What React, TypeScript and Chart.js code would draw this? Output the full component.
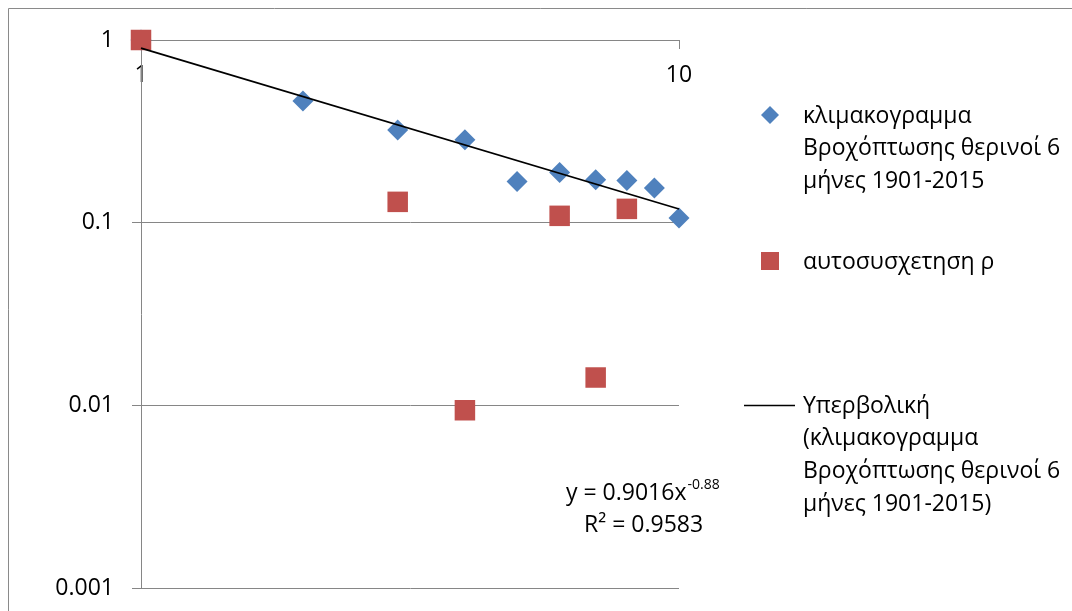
import React, { useEffect, useRef } from "react";
import { Chart, registerables } from "chart.js";

Chart.register(...registerables);

const FONT = '"Open Sans", "DejaVu Sans", sans-serif';

// Climacogram (blue diamonds)
const climaX = [1, 2, 3, 4, 5, 6, 7, 8, 9, 10];
const climaY = [1, 0.464, 0.322, 0.284, 0.168, 0.188, 0.172, 0.17, 0.155, 0.106];
// Autocorrelation (red squares; non-positive values are not shown on a log axis)
const autoX = [1, 3, 4, 6, 7, 8];
const autoY = [1, 0.13, 0.0094, 0.109, 0.0142, 0.119];
// Power trendline y = 0.9016 x^-0.88 (end points)
const trendX = [1, 10];
const trendY = [0.9016, 0.1188];

const xTickValues = [1, 10];
const xTickLabels = ["1", "10"];
const yTickValues = [0.001, 0.01, 0.1, 1];
const yTickLabels = ["0.001", "0.01", "0.1", "1"];

const legendClima = ["κλιμακογραμμα", "Βροχόπτωσης θερινοί 6", "μήνες 1901-2015"];
const legendAuto = ["αυτοσυσχετηση ρ"];
const legendTrend = ["Υπερβολική", "(κλιμακογραμμα", "Βροχόπτωσης θερινοί 6", "μήνες 1901-2015)"];
const equationMain = "y = 0.9016x";
const equationExp = "-0.88";
const equationR2 = "R² = 0.9583";

const BLUE = "#4F81BD";
const RED = "#C0504D";
const GRAY = "#868686";

const overlay = {
  id: "overlay",
  beforeDraw(chart: any) {
    const ctx = chart.ctx;
    ctx.save();
    ctx.strokeStyle = "#8a8a8a";
    ctx.lineWidth = 1;
    ctx.beginPath();
    ctx.moveTo(8.5, 611);
    ctx.lineTo(8.5, 8.5);
    ctx.lineTo(1072, 8.5);
    ctx.stroke();
    ctx.restore();
  },
  afterDraw(chart: any) {
    const ctx = chart.ctx;
    ctx.save();
    ctx.fillStyle = "#000";
    ctx.textBaseline = "middle";
    ctx.textAlign = "left";
    ctx.font = `23px ${FONT}`;
    const tx = 803;
    const lh = 32.7;
    // legend 1: diamond
    ctx.fillStyle = BLUE;
    ctx.beginPath();
    ctx.moveTo(770, 106);
    ctx.lineTo(779, 115);
    ctx.lineTo(770, 124);
    ctx.lineTo(761, 115);
    ctx.closePath();
    ctx.fill();
    ctx.fillStyle = "#000";
    legendClima.forEach((t, i) => ctx.fillText(t, tx, 116 + i * lh));
    // legend 2: square
    ctx.fillStyle = RED;
    ctx.fillRect(761, 252, 18, 18);
    ctx.fillStyle = "#000";
    legendAuto.forEach((t, i) => ctx.fillText(t, tx, 262 + i * lh));
    // legend 3: line
    ctx.strokeStyle = "#000";
    ctx.lineWidth = 1.5;
    ctx.beginPath();
    ctx.moveTo(744, 405.5);
    ctx.lineTo(795, 405.5);
    ctx.stroke();
    legendTrend.forEach((t, i) => ctx.fillText(t, tx, 406 + i * lh));
    // equation
    ctx.fillText(equationMain, 566, 493);
    const w = ctx.measureText(equationMain).width;
    ctx.font = `14px ${FONT}`;
    ctx.fillText(equationExp, 566 + w + 1, 485);
    ctx.font = `23px ${FONT}`;
    ctx.fillText(equationR2, 584, 525);
    ctx.restore();
  },
};

export default function App() {
  const ref = useRef<HTMLCanvasElement | null>(null);
  useEffect(() => {
    if (!ref.current) return;
    Chart.defaults.font.family = FONT;
    Chart.defaults.font.size = 23;
    Chart.defaults.color = "#000";
    const chart = new Chart(ref.current, {
      type: "scatter",
      data: {
        datasets: [
          {
            label: legendTrend.join(" "),
            data: trendX.map((x, i) => ({ x, y: trendY[i] })),
            showLine: true,
            borderColor: "#000",
            borderWidth: 1.8,
            pointRadius: 0,
            pointHoverRadius: 0,
            fill: false,
            clip: false as any,
            order: 0,
          },
          {
            label: legendAuto.join(" "),
            data: autoX.map((x, i) => ({ x, y: autoY[i] })),
            pointStyle: "rect",
            pointRadius: 14.5,
            backgroundColor: RED,
            borderColor: RED,
            borderWidth: 0,
            clip: false as any,
            order: 1,
          },
          {
            label: legendClima.join(" "),
            data: climaX.map((x, i) => ({ x, y: climaY[i] })),
            pointStyle: "rectRot",
            pointRadius: 10.5,
            backgroundColor: BLUE,
            borderColor: BLUE,
            borderWidth: 0,
            clip: false as any,
            order: 2,
          },
        ],
      },
      options: {
        animation: false,
        responsive: false,
        devicePixelRatio: 1,
        events: [],
        layout: { padding: { left: 0, right: 393, top: 40, bottom: 23 } },
        plugins: {
          legend: { display: false },
          tooltip: { enabled: false },
          title: { display: false },
        },
        scales: {
          x: {
            type: "logarithmic",
            min: 1,
            max: 10,
            position: { y: 1 } as any,
            afterBuildTicks: (s: any) => {
              s.ticks = xTickValues.map((v) => ({ value: v }));
            },
            ticks: {
              autoSkip: false,
              maxRotation: 0,
              padding: 14,
              color: "#000",
              font: { size: 23, family: FONT },
              callback: (v: any) => {
                const i = xTickValues.indexOf(Number(v));
                return i >= 0 ? xTickLabels[i] : "";
              },
            },
            grid: {
              drawOnChartArea: false,
              drawTicks: true,
              tickLength: 8,
              color: GRAY,
              lineWidth: 1,
            },
            border: { display: true, color: GRAY, width: 1 },
          },
          y: {
            type: "logarithmic",
            min: 0.001,
            max: 1,
            position: "left",
            afterFit: (s: any) => {
              s.width = 141;
              s.paddingTop = 0;
              s.paddingBottom = 0;
            },
            afterBuildTicks: (s: any) => {
              s.ticks = yTickValues.map((v) => ({ value: v }));
            },
            ticks: {
              autoSkip: false,
              padding: 18,
              color: "#000",
              font: { size: 23, family: FONT },
              callback: (v: any) => {
                const i = yTickValues.findIndex((t) => Math.abs(t - Number(v)) < t * 1e-6);
                return i >= 0 ? yTickLabels[i] : "";
              },
            },
            grid: {
              drawOnChartArea: true,
              drawTicks: true,
              tickLength: 9,
              color: GRAY,
              lineWidth: 1,
            },
            border: { display: true, color: GRAY, width: 1 },
          },
        },
      },
      plugins: [overlay],
    });
    return () => chart.destroy();
  }, []);
  return (
    <div style={{ position: "absolute", left: 0, top: 0, width: 1072, height: 611, background: "#fff" }}>
      <canvas ref={ref} width={1072} height={611} style={{ display: "block" }} />
    </div>
  );
}
